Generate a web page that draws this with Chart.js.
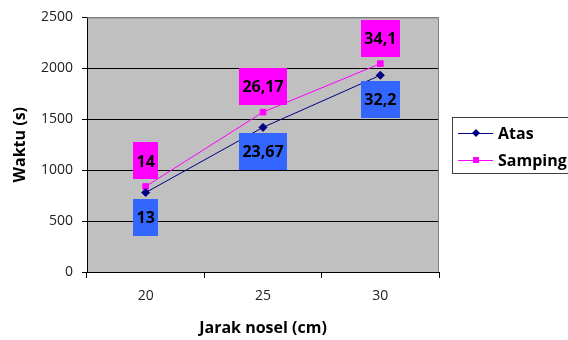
<!DOCTYPE html>
<html>
<head>
<meta charset="utf-8">
<script src="https://cdn.jsdelivr.net/npm/chart.js@4"></script>
<style>
html, body { margin: 0; padding: 0; background: #fff; }
</style>
</head>
<body>
<canvas id="c" width="568" height="340"></canvas>
<script>
// jarak nosel (cm)
const categories = ['20', '25', '30']
// waktu (s)
const atas = [780, 1420, 1932]
const samping = [840, 1570, 2046]
// label in minutes, as shown in the boxes
const atasLabels = ['13', '23,67', '32,2']
const sampingLabels = ['14', '26,17', '34,1']
const yTicks = [0, 500, 1000, 1500, 2000, 2500]

const FONT = "'Open Sans', 'DejaVu Sans', sans-serif"

const plotBg = {
  id: 'plotBg',
  beforeDraw (chart) {
    const { ctx, chartArea: a } = chart
    ctx.save()
    ctx.fillStyle = '#c0c0c0'
    ctx.fillRect(a.left, a.top, a.right - a.left, a.bottom - a.top)
    ctx.restore()
  },
  afterDraw (chart) {
    const { ctx, chartArea: a } = chart
    ctx.save()
    ctx.strokeStyle = '#808080'
    ctx.lineWidth = 1
    ctx.beginPath()
    ctx.moveTo(a.left, a.top + 0.5)
    ctx.lineTo(a.right - 0.5, a.top + 0.5)
    ctx.lineTo(a.right - 0.5, a.bottom)
    ctx.stroke()
    ctx.restore()
  }
}

const boxLabels = {
  id: 'boxLabels',
  afterDatasetsDraw (chart) {
    const ctx = chart.ctx
    ctx.save()
    ctx.font = 'bold 16px ' + FONT
    ctx.textAlign = 'center'
    ctx.textBaseline = 'middle'
    chart.data.datasets.forEach((ds, i) => {
      const meta = chart.getDatasetMeta(i)
      meta.data.forEach((pt, j) => {
        const txt = ds.boxText[j]
        const w = ctx.measureText(txt).width + 7
        const h = 37
        const top = ds.boxSide === 'above' ? pt.y - 7 - h : pt.y + 6
        ctx.fillStyle = ds.boxColor
        ctx.fillRect(Math.round(pt.x - w / 2), Math.round(top), Math.round(w), h)
        ctx.fillStyle = '#000'
        ctx.fillText(txt, pt.x, top + h / 2 + 1)
      })
    })
    ctx.restore()
  }
}

const sideLegend = {
  id: 'sideLegend',
  afterDraw (chart) {
    const ctx = chart.ctx
    const x0 = chart.chartArea.right + 13
    const y0 = 117
    ctx.save()
    ctx.strokeStyle = '#404040'
    ctx.lineWidth = 1
    ctx.strokeRect(x0 + 0.5, y0 + 0.5, 140, 56)
    ctx.font = 'bold 16px ' + FONT
    ctx.textBaseline = 'middle'
    chart.data.datasets.forEach((ds, i) => {
      const y = y0 + 16 + i * 27
      ctx.strokeStyle = ds.borderColor
      ctx.beginPath()
      ctx.moveTo(x0 + 6, y + 0.5)
      ctx.lineTo(x0 + 41, y + 0.5)
      ctx.stroke()
      ctx.fillStyle = ds.borderColor
      const cx = x0 + 24
      ctx.beginPath()
      if (ds.pointStyle === 'rectRot') {
        ctx.moveTo(cx, y - 4); ctx.lineTo(cx + 4, y); ctx.lineTo(cx, y + 4); ctx.lineTo(cx - 4, y)
        ctx.closePath()
      } else {
        ctx.rect(cx - 3, y - 3, 6, 6)
      }
      ctx.fill()
      ctx.fillStyle = '#000'
      ctx.fillText(ds.label, x0 + 46, y + 1)
    })
    ctx.restore()
  }
}

new Chart(document.getElementById('c').getContext('2d'), {
  type: 'line',
  data: {
    labels: categories,
    datasets: [
      {
        label: 'Atas',
        data: atas,
        borderColor: '#000080',
        backgroundColor: '#000080',
        borderWidth: 1,
        pointStyle: 'rectRot',
        pointRadius: 4,
        boxText: atasLabels,
        boxColor: '#3366ff',
        boxSide: 'below'
      },
      {
        label: 'Samping',
        data: samping,
        borderColor: '#ff00ff',
        backgroundColor: '#ff00ff',
        borderWidth: 1,
        pointStyle: 'rect',
        pointRadius: 4,
        boxText: sampingLabels,
        boxColor: '#ff00ff',
        boxSide: 'above'
      }
    ]
  },
  options: {
    responsive: false,
    animation: false,
    layout: { padding: { top: 17, right: 129, left: 0, bottom: 0 } },
    plugins: {
      legend: { display: false },
      tooltip: { enabled: false }
    },
    scales: {
      x: {
        type: 'category',
        offset: true,
        grid: { offset: true, drawOnChartArea: false, tickLength: 6, tickColor: '#000' },
        border: { color: '#000' },
        ticks: { color: '#222', font: { family: FONT, size: 14 }, padding: 10 },
        title: {
          display: true,
          text: 'Jarak nosel (cm)',
          color: '#000',
          font: { family: FONT, size: 16, weight: 'bold' },
          padding: { top: 0, bottom: 2 }
        },
        afterFit (s) { s.height = 68 }
      },
      y: {
        min: 0,
        max: 2500,
        afterBuildTicks (s) { s.ticks = yTicks.map((v) => ({ value: v })) },
        grid: {
          color: (c) => (c.tick && c.tick.value === 2500 ? '#808080' : '#000'),
          tickColor: '#000',
          tickLength: 5
        },
        border: { color: '#000' },
        ticks: {
          color: '#222',
          font: { family: FONT, size: 14 },
          padding: 9,
          callback: (v) => String(v)
        },
        title: {
          display: true,
          text: 'Waktu (s)',
          color: '#000',
          font: { family: FONT, size: 16, weight: 'bold' },
          padding: { top: 11, bottom: 0 }
        },
        afterFit (s) { s.width = 87 }
      }
    }
  },
  plugins: [plotBg, boxLabels, sideLegend]
})
</script>
</body>
</html>
